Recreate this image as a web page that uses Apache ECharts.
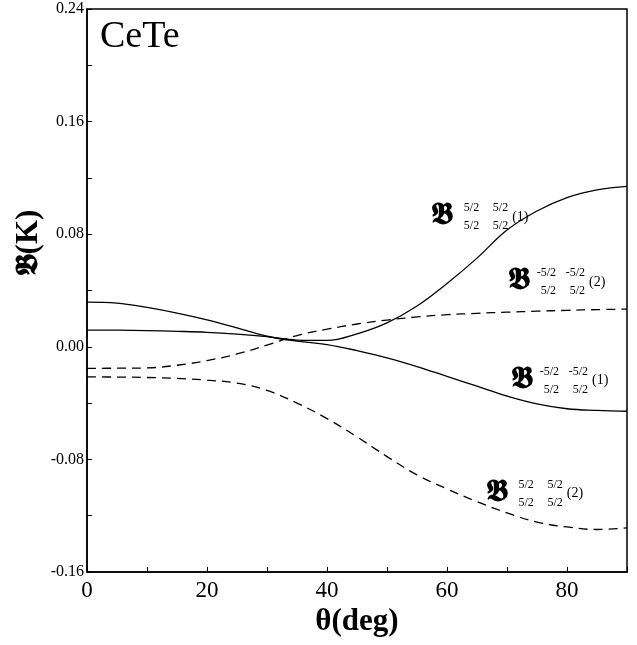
<!DOCTYPE html>
<html>
<head>
<meta charset="utf-8">
<script src="https://cdn.jsdelivr.net/npm/echarts@6/dist/echarts.min.js"></script>
<style>
  html, body { margin: 0; padding: 0; background: #fff; }
  #main { width: 637px; height: 645px; }
</style>
</head>
<body>
<div id="main"></div>
<script>
var chart = echarts.init(document.getElementById('main'))

// theta in degrees
var degrees = [0, 5, 10, 15, 20, 25, 30, 35, 40, 45, 50, 55, 60, 65, 70, 75, 80, 85, 90]
// B 5/2 5/2 ; 5/2 5/2 (1)  solid
var bPlus1 = [0.0119, 0.0118, 0.0115, 0.011, 0.0103, 0.009, 0.0072, 0.0048, 0.0045, 0.0092, 0.017, 0.029, 0.045, 0.063, 0.083, 0.0965, 0.106, 0.1115, 0.114]
// B -5/2 -5/2 ; 5/2 5/2 (1)  solid
var bMinus1 = [0.0318, 0.0311, 0.028, 0.024, 0.0192, 0.0134, 0.0075, 0.004, 0.0016, -0.0027, -0.0078, -0.014, -0.021, -0.028, -0.035, -0.0405, -0.044, -0.0452, -0.0458]
// B -5/2 -5/2 ; 5/2 5/2 (2)  dashed
var bMinus2 = [-0.0153, -0.0152, -0.015, -0.0131, -0.0098, -0.0051, 0.0012, 0.008, 0.0125, 0.0162, 0.019, 0.0212, 0.0228, 0.0238, 0.0246, 0.0253, 0.0259, 0.0264, 0.0268]
// B 5/2 5/2 ; 5/2 5/2 (2)  dashed
var bPlus2 = [-0.0214, -0.0215, -0.0218, -0.0225, -0.0237, -0.0258, -0.031, -0.040, -0.051, -0.064, -0.078, -0.091, -0.101, -0.110, -0.118, -0.1245, -0.128, -0.1298, -0.1287]

var yTicks = [-0.16, -0.08, 0.00, 0.08, 0.16, 0.24]
var xTicks = [0, 20, 40, 60, 80]

// curve labels: upper indices, lower indices, index in brackets
var labelSup = [['5/2', '5/2'], ['-5/2', '-5/2'], ['-5/2', '-5/2'], ['5/2', '5/2']]
var labelSub = [['5/2', '5/2'], ['5/2', '5/2'], ['5/2', '5/2'], ['5/2', '5/2']]
var labelIdx = ['(1)', '(2)', '(1)', '(2)']
// where each label sits, in axis units [deg, K]
var labelAt = [[57.7, 0.092], [70.5, 0.0458], [71, -0.0241], [66.8, -0.1044]]

var BB = '\uD835\uDD6D' // bold fraktur B
var serif = '"Liberation Serif", "DejaVu Serif", serif'

function pairs(ys) {
    return degrees.map(function (d, i) { return [d, ys[i]] })
}

function lineSeries(ys, dashed) {
    return {
        type: 'line',
        data: pairs(ys),
        smooth: 0.4,
        showSymbol: false,
        silent: true,
        lineStyle: { color: '#000', width: 1.3, type: dashed ? [9, 6] : 'solid' }
    }
}

var option = {
    animation: false,
    backgroundColor: '#fff',
    grid: { left: 87, right: 10, top: 9, bottom: 73 },
    xAxis: {
        type: 'value', min: 0, max: 90, interval: 10,
        name: '\u03B8(deg)', nameLocation: 'middle', nameGap: 22,
        nameTextStyle: { fontFamily: serif, fontWeight: 'bold', fontSize: 31, color: '#000' },
        axisLine: { show: true, onZero: false, lineStyle: { color: '#000', width: 1.5 } },
        axisTick: { inside: true, length: 5, lineStyle: { color: '#000' } },
        axisLabel: {
            fontFamily: serif, fontSize: 23, color: '#000', margin: 7,
            formatter: function (v) { return xTicks.indexOf(v) >= 0 ? String(v) : '' }
        },
        splitLine: { show: false }
    },
    yAxis: {
        type: 'value', min: -0.16, max: 0.24, interval: 0.04,
        axisLine: { show: true, onZero: false, lineStyle: { color: '#000', width: 1.5 } },
        axisTick: { inside: true, length: 5, lineStyle: { color: '#000' } },
        axisLabel: {
            fontFamily: serif, fontSize: 16, color: '#000', margin: 3,
            formatter: function (v) {
                for (var i = 0; i < yTicks.length; i++) {
                    if (Math.abs(yTicks[i] - v) < 1e-6) return yTicks[i].toFixed(2)
                }
                return ''
            }
        },
        splitLine: { show: false }
    },
    series: [
        lineSeries(bPlus1, false),
        lineSeries(bMinus1, false),
        lineSeries(bMinus2, true),
        lineSeries(bPlus2, true)
    ]
}

chart.setOption(option)

// frame (top and right edges), title, y name and curve labels
var gr = chart.getModel().getComponent('grid').coordinateSystem.getRect()
var els = [
    { type: 'rect', shape: { x: gr.x, y: gr.y, width: gr.width, height: gr.height }, style: { fill: 'none', stroke: '#000', lineWidth: 1.5 }, silent: true },
    { type: 'text', left: 100, top: 18, style: { text: 'CeTe', font: '38px ' + serif, fill: '#000' } },
    {
        type: 'text', x: 29, y: 243, rotation: Math.PI / 2,
        style: { text: BB + '(K)', font: 'bold 31px ' + serif, fill: '#000', align: 'center', verticalAlign: 'middle' }
    }
]

labelAt.forEach(function (p, i) {
    var px = chart.convertToPixel({ gridIndex: 0 }, p)
    var x = px[0], y = px[1]
    var f = '12px ' + serif
    els.push({ type: 'text', x: x - 2, y: y - 1, style: { text: BB, font: 'bold 31px ' + serif, fill: '#000', verticalAlign: 'middle' } })
    els.push({ type: 'text', x: x + 46, y: y - 9, style: { text: labelSup[i][0], font: f, fill: '#000', align: 'right', verticalAlign: 'middle' } })
    els.push({ type: 'text', x: x + 75, y: y - 9, style: { text: labelSup[i][1], font: f, fill: '#000', align: 'right', verticalAlign: 'middle' } })
    els.push({ type: 'text', x: x + 46, y: y + 9, style: { text: labelSub[i][0], font: f, fill: '#000', align: 'right', verticalAlign: 'middle' } })
    els.push({ type: 'text', x: x + 75, y: y + 9, style: { text: labelSub[i][1], font: f, fill: '#000', align: 'right', verticalAlign: 'middle' } })
    els.push({ type: 'text', x: x + 79, y: y, style: { text: labelIdx[i], font: '14px ' + serif, fill: '#000', verticalAlign: 'middle' } })
})

chart.setOption({ graphic: els })
</script>
</body>
</html>
